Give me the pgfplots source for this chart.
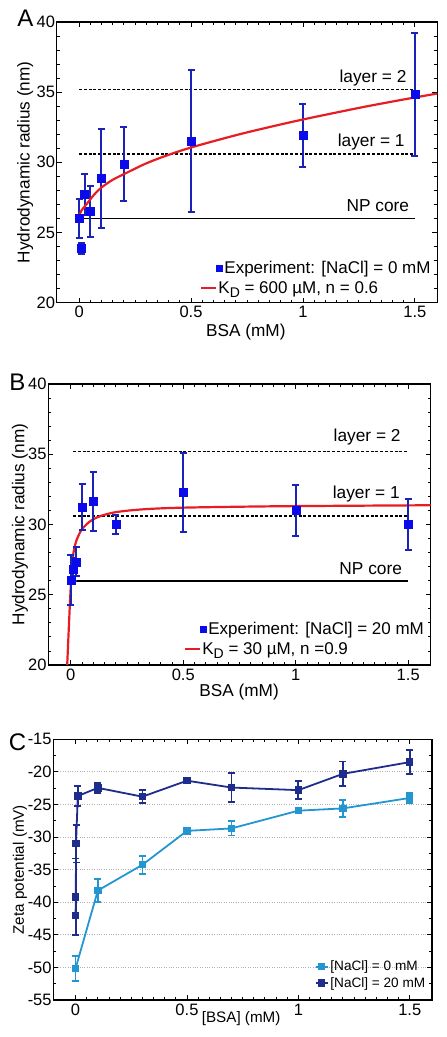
\documentclass[border=0pt]{standalone}
\usepackage{fontspec}
\setmainfont{Liberation Sans}
\usepackage{pgfplots}
\pgfplotsset{compat=1.18}
\definecolor{expblue}{RGB}{10,10,235}
\definecolor{errblue}{RGB}{25,35,185}
\definecolor{fitred}{RGB}{230,30,35}
\definecolor{lightb}{RGB}{35,150,210}
\definecolor{darkb}{RGB}{30,45,140}

\tikzset{txt/.style={anchor=base east, font=\fontsize{17.3}{20}\selectfont, inner sep=0pt}}
\pgfplotsset{
  panel/.style={
    scale only axis,
    xmin=-0.1, xmax=1.6,
    xtick={0,0.5,1,1.5},
    minor x tick num=9,
    tick align=inside,
    major tick length=5pt, minor tick length=3pt,
    every tick/.style={black, line width=0.9pt},
    axis line style={line width=1.5pt},
    /pgf/number format/assume math mode=true,
    tick label style={font=\fontsize{16.5}{19}\selectfont},
    yticklabel style={inner xsep=1.5pt},
    xticklabel style={inner ysep=3.5pt},
    label style={font=\fontsize{17.2}{20}\selectfont},
    legend style={draw=none, fill=none, font=\fontsize{17}{20}\selectfont, inner sep=0pt, row sep=2pt},
    legend cell align=left,
  },
  refline/.style={black, line width=1.6pt, forget plot},
  refdash/.style={black, line width=1.6pt, dash pattern=on 3pt off 1.8pt, forget plot},
  expdata/.style={only marks, mark=square*, mark size=4pt, color=expblue, forget plot,
    error bars/.cd, y dir=both, y explicit,
    error bar style={errblue, line width=2pt},
    error mark options={errblue, rotate=90, mark size=3.5pt, line width=2pt}},
  fit/.style={fitred, line width=2.2pt, smooth, forget plot},
}

\begin{document}
\begin{tikzpicture}
\useasboundingbox (0,0) rectangle (447pt,-1037pt);

% ---------------- Panel A ----------------
\begin{axis}[panel, at={(56.7pt,-302.5pt)}, anchor=south west,
  width=380.6pt, height=280.5pt,
  ymin=20, ymax=40, ytick={20,25,30,35,40}, minor y tick num=4,
  xlabel={BSA (mM)}, ylabel={Hydrodynamic radius (nm)},
  xlabel style={at={(axis description cs:0.497,-0.105)}, anchor=center},
  ylabel style={at={(axis description cs:-0.083,0.5)}, anchor=center},
  legend style={at={(axis description cs:0.988,0.02)}, anchor=south east}]
\addlegendimage{legend image code/.code={\fill[expblue] (15pt,-3pt) rectangle (21pt,3pt);}}
\addlegendentry{Experiment: [NaCl] = 0 mM}
\addlegendimage{legend image code/.code={\draw[fitred,line width=2.2pt] (0pt,0pt) -- (15pt,0pt);}}
\addlegendentry{\hspace*{-6pt}K\raisebox{-0.45ex}{\fontsize{14}{14}\selectfont D} = 600 µM, n = 0.6}
\addplot[refline] coordinates {(0,26.0) (1.5,26.0)};
\addplot[refdash] coordinates {(0,30.6) (1.5,30.6)};
\addplot[refdash] coordinates {(0,35.2) (1.5,35.2)};
\addplot[expdata] table[x=x, y=y, y error=e] {
x y e
0 26.0 1.4
0.01 23.85 0.4
0.025 27.7 1.45
0.05 26.5 1.8
0.1 28.85 3.55
0.2 29.87 2.65
0.5 31.53 5.05
1.0 31.93 2.25
1.5 34.85 4.4
};
\addplot[fit] coordinates {(0,26.03) (0.003,26.3) (0.01,26.55) (0.028,26.9) (0.065,27.65) (0.1,28.2) (0.15,28.75) (0.2,29.15) (0.29,29.85) (0.36,30.3) (0.44,30.75) (0.5,31.05) (0.6,31.5) (0.73,32.05) (0.88,32.62) (1.0,33.05) (1.15,33.55) (1.28,33.97) (1.4,34.33) (1.5,34.62) (1.6,34.9)};
\node[txt] at (axis cs:1.463,35.71) {layer = 2};
\node[txt] at (axis cs:1.455,31.12) {layer = 1};
\node[txt] at (axis cs:1.475,26.46) {NP core};
\end{axis}

% ---------------- Panel B ----------------
\begin{axis}[panel, at={(48.3pt,-665pt)}, anchor=south west,
  width=382.4pt, height=281pt,
  ymin=20, ymax=40, ytick={20,25,30,35,40}, minor y tick num=4,
  xlabel={BSA (mM)}, ylabel={Hydrodynamic radius (nm)},
  xlabel style={at={(axis description cs:0.499,-0.096)}, anchor=center},
  ylabel style={at={(axis description cs:-0.074,0.5)}, anchor=center},
  legend style={at={(axis description cs:0.988,0.025)}, anchor=south east}]
\addlegendimage{legend image code/.code={\fill[expblue] (15pt,-3pt) rectangle (21pt,3pt);}}
\addlegendentry{Experiment: [NaCl] = 20 mM}
\addlegendimage{legend image code/.code={\draw[fitred,line width=2.2pt] (0pt,0pt) -- (15pt,0pt);}}
\addlegendentry{\hspace*{-6pt}K\raisebox{-0.45ex}{\fontsize{14}{14}\selectfont D} = 30 µM, n =0.9}
\addplot[refline] coordinates {(0.01,26.0) (1.5,26.0)};
\addplot[refdash] coordinates {(0.01,30.6) (1.5,30.6)};
\addplot[refdash] coordinates {(0.01,35.2) (1.5,35.2)};
\addplot[fit] coordinates {(-0.016,20) (-0.01,22.2) (-0.005,24.0) (0,25.6) (0.004,26.6) (0.008,27.4) (0.012,28.0) (0.02,28.6) (0.027,28.95) (0.049,29.65) (0.086,30.23) (0.13,30.59) (0.2,30.88) (0.32,31.08) (0.5,31.2) (0.93,31.3) (1.6,31.37)};
\addplot[expdata] table[x=x, y=y, y error=e] {
x y e
0 26.05 1.8
0.01 26.8 0.8
0.025 27.35 1.05
0.05 31.25 1.65
0.1 31.65 2.1
0.2 30.0 0.67
0.5 32.3 2.8
1.0 31.0 1.8
1.5 30.0 1.8
};
\node[txt] at (axis cs:1.467,35.93) {layer = 2};
\node[txt] at (axis cs:1.463,31.88) {layer = 1};
\node[txt] at (axis cs:1.473,26.45) {NP core};
\end{axis}

% ---------------- Panel C ----------------
\begin{axis}[panel, at={(53.3pt,-1000pt)}, anchor=south west,
  width=378.7pt, height=260.7pt,
  ymin=-55, ymax=-15, ytick={-55,-50,...,-15}, minor y tick num=1,
  ymajorgrids, grid style={dotted, black!30, line width=0.8pt},
  xlabel={[BSA] (mM)}, ylabel={Zeta potential (mV)},
  label style={font=\fontsize{15.2}{18}\selectfont},
  xlabel style={at={(axis description cs:0.496,-0.073)}, anchor=center},
  ylabel style={at={(axis description cs:-0.088,0.5)}, anchor=center},
  legend style={at={(axis description cs:0.988,0.035)}, anchor=south east,
    font=\fontsize{13.6}{16}\selectfont, row sep=1pt},
  legend image code/.code={\draw[#1, mark repeat=2, mark phase=2] plot coordinates {(0pt,0pt) (6pt,0pt) (12pt,0pt)};}]
\addplot[lightb, line width=1.8pt, mark=square*, mark size=2.8pt,
  error bars/.cd, y dir=both, y explicit,
  error bar style={lightb, line width=1.8pt},
  error mark options={lightb, rotate=90, mark size=3.5pt, line width=1.8pt}]
  table[x=x, y=y, y error=e] {
x y e
0 -50.15 1.9
0.1 -38.2 1.8
0.3 -34.25 1.4
0.5 -29.05 0.35
0.7 -28.67 1.1
1.0 -25.95 0.35
1.2 -25.6 1.3
1.5 -24.0 0.8
};
\addlegendentry{[NaCl] = 0 mM}
\addplot[darkb, line width=1.8pt, mark=square*, mark size=2.8pt,
  error bars/.cd, y dir=both, y explicit,
  error bar style={darkb, line width=1.8pt},
  error mark options={darkb, rotate=90, mark size=3.5pt, line width=1.8pt}]
  table[x=x, y=y, y error=e] {
x y e
0 -42.05 3.0
0.001 -39.2 5.9
0.002 -31.0 2.9
0.01 -23.7 1.5
0.1 -22.45 0.8
0.3 -23.8 1.0
0.5 -21.35 0.4
0.7 -22.4 2.2
1.0 -22.8 1.4
1.2 -20.3 1.9
1.5 -18.5 1.8
};
\addlegendentry{[NaCl] = 20 mM}
\end{axis}

\node[font=\fontsize{24}{25}\selectfont, inner sep=0pt] at (25.5pt,-18.3pt) {A};
\node[font=\fontsize{24}{25}\selectfont, inner sep=0pt] at (17.5pt,-382.5pt) {B};
\node[font=\fontsize{24}{25}\selectfont, inner sep=0pt] at (17.5pt,-742.5pt) {C};
\end{tikzpicture}
\end{document}
